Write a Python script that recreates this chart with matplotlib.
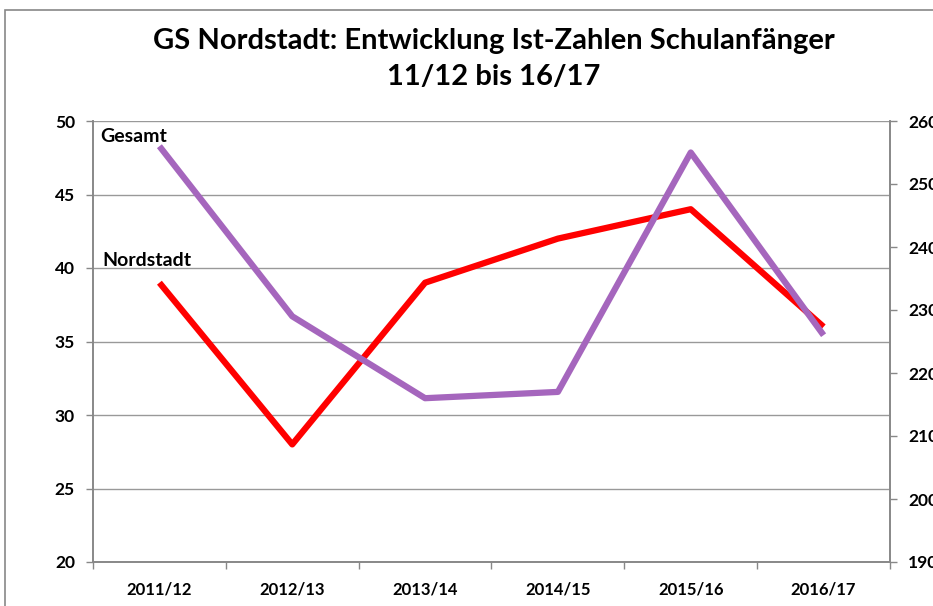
import matplotlib
matplotlib.use("Agg")
import matplotlib.pyplot as plt
from matplotlib.patches import Rectangle

categories = ["2011/12", "2012/13", "2013/14", "2014/15", "2015/16", "2016/17"]
nordstadt = [39, 28, 39, 42, 44, 36]
gesamt = [256, 229, 216, 217, 255, 226]
left_ticks = [20, 25, 30, 35, 40, 45, 50]
right_ticks = [190, 200, 210, 220, 230, 240, 250, 260]

plt.rcParams['font.family'] = ['Lato', 'DejaVu Sans']
plt.rcParams['font.weight'] = 'bold'

fig = plt.figure(figsize=(9.33, 6.06), dpi=100)
fig.patches.append(Rectangle((5/933, -0.1), 1.2, 1 - 10/606 + 0.1, transform=fig.transFigure,
                             fill=False, edgecolor='#888888', linewidth=1.2))

ax = fig.add_axes([93/933, 1 - 562/606, (890 - 93)/933, (562 - 121)/606])
ax2 = ax.twinx()

x = list(range(len(categories)))
ax.plot(x, nordstadt, color='#FF0000', linewidth=4.5, solid_capstyle='butt', zorder=3)
ax2.plot(x, gesamt, color='#A566BD', linewidth=4.5, solid_capstyle='butt', zorder=3)

ax.set_xlim(-0.5, len(categories) - 0.5)
ax.set_ylim(20, 50)
ax2.set_ylim(190, 260)
ax.set_yticks(left_ticks)
ax2.set_yticks(right_ticks)
ax.set_xticks(x)
ax.set_xticklabels(categories)
ax.set_xticks([i - 0.5 for i in range(len(categories) + 1)], minor=True)
ax.tick_params(axis='x', which='major', length=0, pad=14, labelsize=12)
ax.tick_params(axis='x', which='minor', length=5, color='#888888', width=1)
ax.tick_params(axis='y', length=5, color='#888888', width=1, labelsize=12.5, pad=8)
ax2.tick_params(axis='y', length=5, color='#888888', width=1, labelsize=12.5, pad=8)

ax.grid(axis='y', color='#999999', linewidth=1)
ax.set_axisbelow(True)
for a in (ax, ax2):
    for s in a.spines.values():
        s.set_color('#888888')
        s.set_linewidth(1.2)
ax.spines['top'].set_visible(False)
ax2.spines['top'].set_visible(False)

ax.text(0.009, 0.952, "Gesamt", transform=ax.transAxes, fontsize=14, fontweight='bold')
ax.text(0.012, 0.672, "Nordstadt", transform=ax.transAxes, fontsize=14, fontweight='bold')

fig.text(494/933, 1 - 59/606, "GS Nordstadt: Entwicklung Ist-Zahlen Schulanfänger\n11/12 bis 16/17",
         ha='center', va='center', fontsize=21, fontweight='bold', linespacing=1.45)

fig.savefig("out.png", dpi=100)
